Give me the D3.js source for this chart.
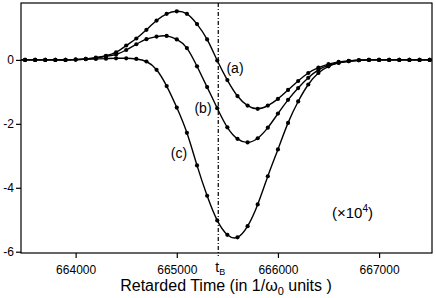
<!DOCTYPE html>
<html><head><meta charset="utf-8">
<script src="https://cdn.jsdelivr.net/npm/d3@7/dist/d3.min.js"></script>
<style>body{margin:0;background:#fff}svg{display:block}text{font-family:"Liberation Sans",Arial,Helvetica,sans-serif}</style>
</head><body>
<script>
const times = [663400,663500,663600,663700,663800,663900,664000,664100,664200,664300,664400,664500,664600,664700,664800,664900,665000,665100,665200,665300,665400,665500,665600,665700,665800,665900,666000,666100,666200,666300,666400,666500,666600,666700,666800,666900,667000,667100,667200,667300,667400,667500,667600];
const seriesA = [0,0,0,0,0,0,0.01,0.03,0.07,0.13,0.24,0.45,0.67,0.94,1.23,1.44,1.52,1.44,1.12,0.64,-0.02,-0.63,-1.13,-1.43,-1.53,-1.43,-1.22,-0.94,-0.66,-0.41,-0.24,-0.13,-0.06,-0.03,-0.01,0,0,0,0,0,0,0,0];
const seriesB = [0,0,0,0,0,0,0.01,0.03,0.06,0.11,0.17,0.31,0.49,0.65,0.73,0.75,0.64,0.37,-0.2,-0.85,-1.51,-2.11,-2.47,-2.58,-2.45,-2.12,-1.68,-1.25,-0.88,-0.56,-0.31,-0.17,-0.09,-0.04,-0.01,0,0,0,0,0,0,0,0];
const seriesC = [0,0,0,0,0,0,0.01,0.02,0.03,0.04,0.05,0.05,0.03,-0.05,-0.31,-0.82,-1.49,-2.28,-3.3,-4.25,-5.02,-5.47,-5.55,-5.2,-4.52,-3.64,-2.8,-1.97,-1.3,-0.77,-0.41,-0.2,-0.09,-0.04,-0.01,0,0,0,0,0,0,0,0];
const seriesNames = ["(a)","(b)","(c)"];
const xTicks = [664000,665000,666000,667000];
const yTicks = [0,-2,-4,-6];
const tB = 665410;

const W=436,H=298;
const m={l:21,r:4,t:3,b:45};
const svg=d3.select("body").append("svg").attr("width",W).attr("height",H);
const x=d3.scaleLinear().domain([663460,667523]).range([m.l,W-m.r]);
const y=d3.scaleLinear().domain([-6.04,1.78]).range([H-m.b,m.t]);

svg.append("defs").append("clipPath").attr("id","clip").append("rect")
  .attr("x",m.l).attr("y",m.t).attr("width",W-m.r-m.l).attr("height",H-m.b-m.t);

svg.append("rect").attr("x",m.l).attr("y",m.t).attr("width",W-m.r-m.l).attr("height",H-m.b-m.t)
  .attr("fill","none").attr("stroke","#000").attr("stroke-width",1.2);

const xAxis=svg.append("g").attr("transform",`translate(0,${H-m.b})`)
  .call(d3.axisBottom(x).tickValues(xTicks).tickFormat(d3.format("d")).tickSize(5).tickPadding(7));
const yAxis=svg.append("g").attr("transform",`translate(${m.l},0)`)
  .call(d3.axisLeft(y).tickValues(yTicks).tickFormat(d=>d===0?"0":String(d)).tickSize(5).tickPadding(2));
[xAxis,yAxis].forEach(g=>{g.select(".domain").remove();g.selectAll("line").attr("stroke","#000").attr("stroke-width",1.2);
  g.selectAll("text").attr("fill","#000").style("font-size","12px").style("font-family",'"Liberation Sans",Arial,sans-serif');});

svg.append("line").attr("x1",x(tB)).attr("x2",x(tB)).attr("y1",m.t).attr("y2",H-m.b+3)
  .attr("stroke","#000").attr("stroke-width",1.2).attr("stroke-dasharray","4,2,1,2");
const tl=svg.append("text").attr("x",x(tB)-3).attr("y",H-m.b+19).style("font-size","14px");
tl.append("tspan").text("t");
tl.append("tspan").attr("dy",3).style("font-size","9px").text("B");

const plot=svg.append("g").attr("clip-path","url(#clip)");
const line=d3.line().x((d,i)=>x(times[i])).y(d=>y(d)).curve(d3.curveNatural);
[seriesA,seriesB,seriesC].forEach(s=>{
  plot.append("path").attr("d",line(s)).attr("fill","none").attr("stroke","#000").attr("stroke-width",1.4);
  plot.selectAll(null).data(s).enter().append("circle")
    .attr("cx",(d,i)=>x(times[i])).attr("cy",d=>y(d)).attr("r",2.1).attr("fill","#000");
});

const lab=[[235,73],[203,113],[179,158]];
seriesNames.forEach((n,i)=>svg.append("text").attr("x",lab[i][0]).attr("y",lab[i][1])
  .attr("text-anchor","middle").style("font-size","14px").text(n));

const mt=svg.append("text").attr("x",332).attr("y",218).style("font-size","15px");
mt.append("tspan").text("(\u00d710");
mt.append("tspan").attr("dy",-6).style("font-size","10px").text("4");
mt.append("tspan").attr("dy",6).text(")");

const tt=svg.append("text").attr("x",226).attr("y",291).attr("text-anchor","middle").style("font-size","16px");
tt.append("tspan").text("Retarded Time (in 1/\u03c9");
tt.append("tspan").attr("dy",4).style("font-size","11px").text("0");
tt.append("tspan").attr("dy",-4).text(" units )");
</script>
</body></html>
